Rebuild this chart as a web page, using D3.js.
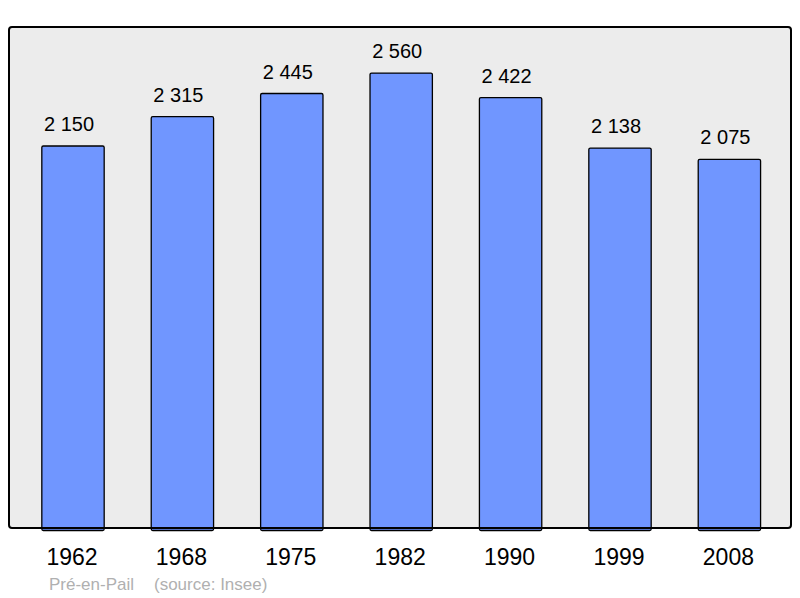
<!DOCTYPE html>
<html>
<head>
<meta charset="utf-8">
<script src="https://cdn.jsdelivr.net/npm/d3@7"></script>
<style>
  body { margin: 0; background: #fff; }
  text { font-family: "Liberation Sans", Arial, sans-serif; }
</style>
</head>
<body>
<div id="vis"></div>
<script>
// population data
var years = ["1962", "1968", "1975", "1982", "1990", "1999", "2008"];
var population = [2150, 2315, 2445, 2560, 2422, 2138, 2075];
var commune = "Pré-en-Pail";
var source = "(source: Insee)";

var width = 800, height = 598;
var panel = {x: 9, y: 27, w: 782, h: 501};

var svg = d3.select("#vis")
   .append("svg")
   .attr("width", width)
   .attr("height", height);

var x = d3.scaleBand()
   .domain(years)
   .range([18.3, 784.1])
   .paddingInner(0.43)
   .paddingOuter(0.215);

var y = d3.scaleLinear()
   .domain([0, d3.max(population) * 1.1])
   .range([panel.y + panel.h, panel.y]);

//Gray panel
svg.append("rect")
   .attr("x", panel.x)
   .attr("y", panel.y)
   .attr("width", panel.w)
   .attr("height", panel.h)
   .attr("rx", 3)
   .style("fill", "#ececec");

var data = years.map(function(d, i) { return {year: d, value: population[i]}; });

//Bars
svg.selectAll(".bar")
   .data(data)
   .enter()
   .append("rect")
   .attr("class", "bar")
   .attr("x", function(d) { return x(d.year); })
   .attr("y", function(d) { return y(d.value) + 0.5; })
   .attr("width", x.bandwidth())
   .attr("height", function(d) { return y(0) - y(d.value) + 2; })
   .attr("rx", 1.5)
   .style("fill", "#7096ff")
   .style("stroke", "#000")
   .style("stroke-width", 1.3);

//Panel border drawn over bar bottoms
svg.append("rect")
   .attr("x", panel.x)
   .attr("y", panel.y)
   .attr("width", panel.w)
   .attr("height", panel.h)
   .attr("rx", 3)
   .style("fill", "none")
   .style("stroke", "#000")
   .style("stroke-width", 2);

//Value labels
svg.selectAll(".val")
   .data(data)
   .enter()
   .append("text")
   .attr("class", "val")
   .attr("x", function(d) { return x(d.year) + x.bandwidth() / 2 - 4; })
   .attr("y", function(d) { return y(d.value) - 14.5; })
   .attr("text-anchor", "middle")
   .style("font-size", "20px")
   .text(function(d) { return d3.format(",")(d.value).replace(",", " "); });

//Year labels
svg.selectAll(".year")
   .data(data)
   .enter()
   .append("text")
   .attr("class", "year")
   .attr("x", function(d) { return x(d.year) + x.bandwidth() / 2 - 1; })
   .attr("y", 564.5)
   .attr("text-anchor", "middle")
   .style("font-size", "23px")
   .text(function(d) { return d.year; });

//Footer
svg.append("text")
   .attr("x", 49)
   .attr("y", 590)
   .style("font-size", "17px")
   .style("fill", "#b0b0b0")
   .text(commune);
svg.append("text")
   .attr("x", 154)
   .attr("y", 590)
   .style("font-size", "17px")
   .style("fill", "#b0b0b0")
   .text(source);
</script>
</body>
</html>
